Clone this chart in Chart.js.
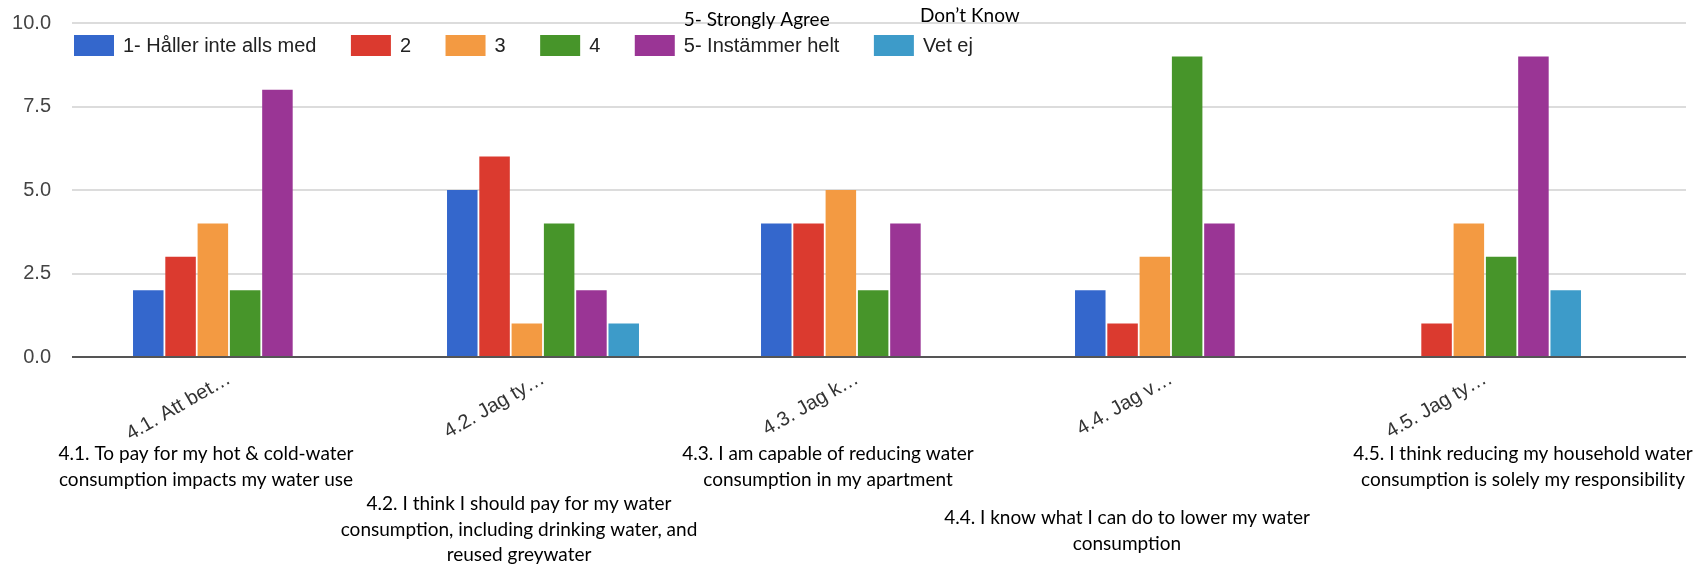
<!DOCTYPE html>
<html>
<head>
<meta charset="utf-8">
<title>Vattenförbrukning – enkätsvar 4.1–4.5</title>
<script src="https://cdn.jsdelivr.net/npm/chart.js@4.4.1/dist/chart.umd.min.js"></script>
<style>
  html, body { margin: 0; padding: 0; background: #ffffff; }
  canvas { display: block; }
</style>
</head>
<body>
<canvas id="chart" width="1706" height="569"></canvas>
<script>
// Survey questions (short Swedish labels on the category axis)
const categories = ['4.1. Att bet…', '4.2. Jag ty…', '4.3. Jag k…', '4.4. Jag v…', '4.5. Jag ty…'];

// Answer scale, one series per option
const seriesNames = ['1- Håller inte alls med', '2', '3', '4', '5- Instämmer helt', 'Vet ej'];

// Number of respondents per answer, per question
const answers1 = [2, 5, 4, 2, 0];
const answers2 = [3, 6, 4, 1, 1];
const answers3 = [4, 1, 5, 3, 4];
const answers4 = [2, 4, 2, 9, 3];
const answers5 = [8, 2, 4, 4, 9];
const answersDontKnow = [0, 1, 0, 0, 2];

// Value axis ticks
const yTicks = [0, 2.5, 5, 7.5, 10];

// English translations of the questions
const statementTexts = [
  ['4.1. To pay for my hot & cold-water', 'consumption impacts my water use'],
  ['4.2. I think I should pay for my water', 'consumption, including drinking water, and', 'reused greywater'],
  ['4.3. I am capable of reducing water', 'consumption in my apartment'],
  ['4.4. I know what I can do to lower my water', 'consumption'],
  ['4.5. I think reducing my household water', 'consumption is solely my responsibility']
];

// English translations of two legend entries
const scaleNotes = [
  { series: 4, text: '5- Strongly Agree' },
  { series: 5, text: 'Don’t Know' }
];

// ---- styling ----
const seriesColors = ['#3467cc', '#db3a2f', '#f39a42', '#47952a', '#9a3595', '#3d9bc9'];
const GRID = '#dcdcdc';
const BASE = '#555555';
const AXIS_FONT = '"Liberation Sans", Arial, sans-serif';
const NOTE_FONT = 'Lato, "Liberation Sans", sans-serif';

// where each translated statement sits: offset from its category centre, first line y
const statementLayout = [
  { dx: -23, y: 454 },
  { dx: -24, y: 504 },
  { dx: -29, y: 454 },
  { dx: -44, y: 518 },
  { dx: 38, y: 454 }
];
const NOTE_LINE = 25.5;

const seriesValues = [answers1, answers2, answers3, answers4, answers5, answersDontKnow];

// Legend drawn inside the plot, just under the top grid line
const legendInPlot = {
  id: 'legendInPlot',
  afterDraw(chart) {
    const ctx = chart.ctx;
    ctx.save();
    ctx.font = '20px ' + AXIS_FONT;
    ctx.textBaseline = 'middle';
    let x = 74;
    const top = 35, boxW = 40, boxH = 21;
    const textStarts = [];
    chart.data.datasets.forEach((ds) => {
      ctx.fillStyle = ds.backgroundColor;
      ctx.fillRect(x, top, boxW, boxH);
      const tx = x + boxW + 9;
      textStarts.push(tx);
      ctx.fillStyle = '#222222';
      ctx.fillText(ds.label, tx, top + boxH / 2 + 1);
      x = tx + ctx.measureText(ds.label).width + 34.5;
    });
    // English notes above two of the legend entries
    ctx.font = '19px ' + NOTE_FONT;
    ctx.fillStyle = '#000000';
    ctx.textBaseline = 'alphabetic';
    scaleNotes.forEach((n, i) => {
      ctx.fillText(n.text, textStarts[n.series] + (i === 0 ? 0 : -3), i === 0 ? 26 : 22);
    });
    ctx.restore();
  }
};

// Grid lines run a little past the last category; baseline drawn over the bars
const gridExtras = {
  id: 'gridExtras',
  beforeDatasetsDraw(chart) {
    const { ctx, chartArea, scales: { y } } = chart;
    ctx.save();
    ctx.lineWidth = 2;
    ctx.strokeStyle = GRID;
    y.ticks.forEach((t) => {
      if (t.value === 0) return;
      const py = Math.round(y.getPixelForValue(t.value));
      ctx.beginPath();
      ctx.moveTo(chartArea.right, py);
      ctx.lineTo(chartArea.right + 44, py);
      ctx.stroke();
    });
    ctx.restore();
  },
  afterDatasetsDraw(chart) {
    const { ctx, chartArea, scales: { y } } = chart;
    const py = Math.round(y.getPixelForValue(0));
    ctx.save();
    ctx.lineWidth = 2;
    ctx.strokeStyle = BASE;
    ctx.beginPath();
    ctx.moveTo(chartArea.left, py);
    ctx.lineTo(chartArea.right + 44, py);
    ctx.stroke();
    ctx.restore();
  }
};

// Translated statements under the category labels
const statementNotes = {
  id: 'statementNotes',
  afterDraw(chart) {
    const { ctx, scales: { x } } = chart;
    ctx.save();
    ctx.font = '19px ' + NOTE_FONT;
    ctx.fillStyle = '#000000';
    ctx.textAlign = 'center';
    ctx.textBaseline = 'middle';
    statementTexts.forEach((lines, i) => {
      const cx = x.getPixelForValue(i) + statementLayout[i].dx;
      lines.forEach((line, k) => {
        ctx.fillText(line, cx, statementLayout[i].y + k * NOTE_LINE);
      });
    });
    ctx.restore();
  }
};

new Chart(document.getElementById('chart'), {
  type: 'bar',
  data: {
    labels: categories,
    datasets: seriesNames.map((name, i) => ({
      label: name,
      data: seriesValues[i],
      backgroundColor: seriesColors[i],
      borderWidth: 0,
      categoryPercentage: 0.617,
      barPercentage: 0.945
    }))
  },
  options: {
    responsive: false,
    devicePixelRatio: 1,
    animation: false,
    layout: { padding: { left: 0, right: 64, top: 23, bottom: 0 } },
    plugins: {
      legend: { display: false },
      tooltip: { enabled: false }
    },
    scales: {
      x: {
        grid: { display: false },
        border: { display: false },
        ticks: {
          autoSkip: false,
          minRotation: 30,
          maxRotation: 30,
          padding: 2,
          color: '#333333',
          font: { family: AXIS_FONT, size: 20 }
        },
        afterFit(scale) { scale.height = 212; }
      },
      y: {
        min: 0,
        max: 10,
        afterBuildTicks(scale) { scale.ticks = yTicks.map((v) => ({ value: v })); },
        grid: {
          color: (c) => (c.tick && c.tick.value === 0 ? 'rgba(0,0,0,0)' : GRID),
          lineWidth: 2,
          drawTicks: true,
          tickLength: 21,
          tickColor: 'rgba(0,0,0,0)'
        },
        border: { display: false },
        ticks: {
          padding: 0,
          color: '#444444',
          font: { family: AXIS_FONT, size: 20 },
          callback: (v) => Number(v).toFixed(1)
        },
        afterFit(scale) { scale.width = 72; }
      }
    }
  },
  plugins: [gridExtras, legendInPlot, statementNotes]
});
</script>
</body>
</html>
